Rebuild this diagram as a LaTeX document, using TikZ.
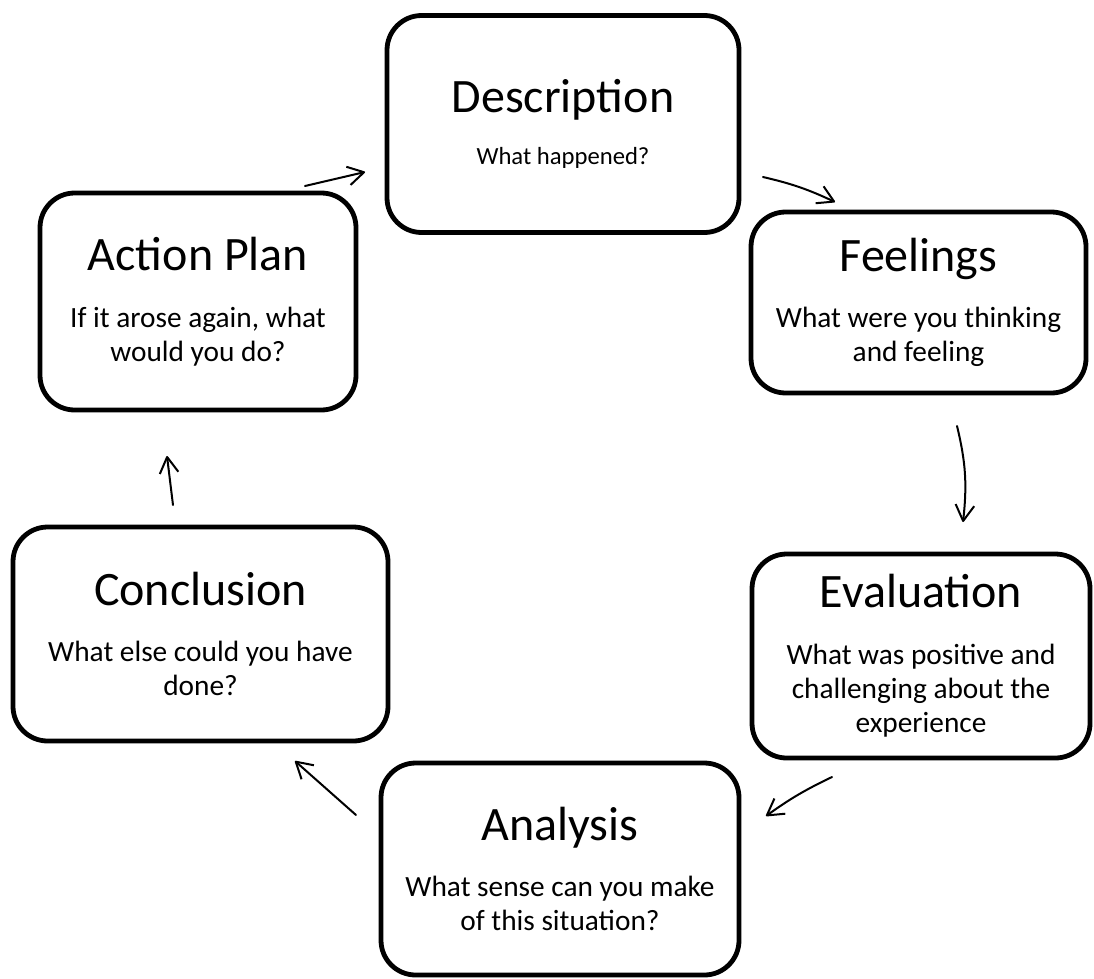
\documentclass[tikz,border=0pt]{standalone}
\usepackage{fontspec}
\setmainfont{Carlito}
\usetikzlibrary{arrows.meta}
\tikzset{
	stage/.style={draw, line width=3.6pt, rounded corners=26pt, align=center, inner sep=0pt,
		font=\fontsize{22}{25.5}\selectfont},
	flow/.style={line width=1.5pt, line cap=round,
		-{Straight Barb[length=12pt,width=14pt,line join=round]}}
}
\newcommand{\stagetitle}[2][17pt]{{\fontsize{36}{43}\selectfont #2}\\[#1]}

\begin{document}
\begin{tikzpicture}[x=0.75pt, y=-0.75pt]
	% page: 1094 x 978 px, sizes in pt = px * 0.75
	\useasboundingbox (0,0) rectangle (1094,978);
	
	% stages of the cycle
	\node[stage, minimum width=264pt, minimum height=162.75pt, font=\fontsize{18.5}{25.5}\selectfont]
		(description) at (563,124) {\stagetitle[13.5pt]{Description}What happened?};
	\node[stage, minimum width=251.25pt, minimum height=135.75pt] (feelings) at (918.5,302.5)
		{\stagetitle{Feelings}What were you thinking\\and feeling};
	\node[stage, minimum width=253.5pt, minimum height=153pt] (evaluation) at (921,656)
		{\stagetitle{Evaluation}What was positive and\\challenging about the\\experience};
	\node[stage, minimum width=268.5pt, minimum height=159pt] (analysis) at (560,869)
		{\stagetitle{Analysis}What sense can you make\\of this situation?};
	\node[stage, minimum width=281.25pt, minimum height=160.5pt] (conclusion) at (200.5,634)
		{\stagetitle{Conclusion}What else could you have\\done?};
	\node[stage, minimum width=237pt, minimum height=162.75pt] (action) at (198,301.5)
		{\stagetitle{Action Plan}If it arose again, what\\would you do?};
	
	% arrow ends
	\coordinate (action-out) at (305,186);
	\coordinate (description-in) at (365,172);
	\coordinate (description-out) at (763,177);
	\coordinate (feelings-in) at (835,202);
	\coordinate (feelings-out) at (957,426);
	\coordinate (evaluation-in) at (963,522);
	\coordinate (evaluation-out) at (832,777);
	\coordinate (analysis-in) at (766,816);
	\coordinate (analysis-out) at (356,815);
	\coordinate (conclusion-in) at (295,761);
	\coordinate (conclusion-out) at (173,505);
	\coordinate (action-in) at (167,456);
	
	% arrows
	\draw[flow] (action-out) -- (description-in);
	\draw[flow] (description-out) to[bend left=6] (feelings-in);
	\draw[flow] (feelings-out) to[bend left=10] (evaluation-in);
	\draw[flow] (evaluation-out) to[bend right=5] (analysis-in);
	\draw[flow] (analysis-out) -- (conclusion-in);
	\draw[flow] (conclusion-out) -- (action-in);
\end{tikzpicture}
\end{document}
